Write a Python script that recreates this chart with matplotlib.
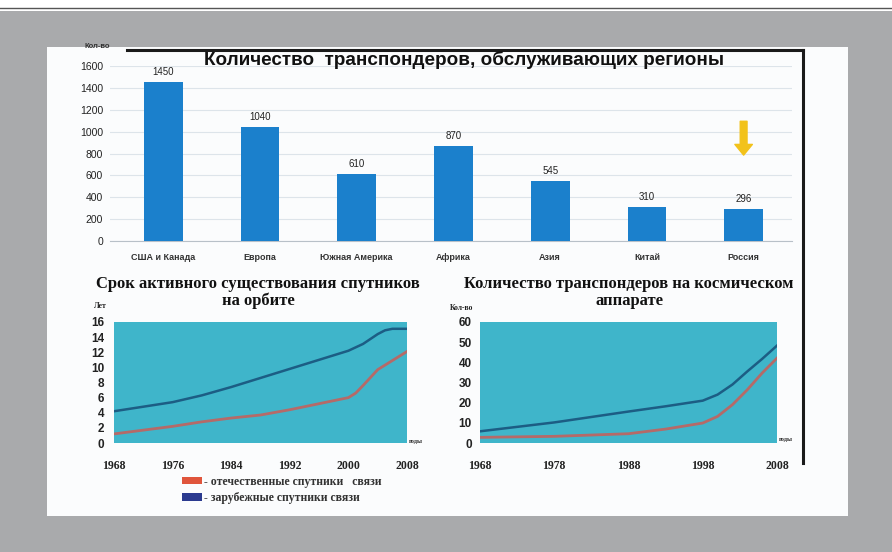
import numpy as np
import matplotlib
matplotlib.use("Agg")
import matplotlib.pyplot as plt
from matplotlib.patches import Rectangle, Patch
from matplotlib.lines import Line2D
from matplotlib.colors import LinearSegmentedColormap

# ---------------- data ----------------
regions = ["США и Канада", "Европа", "Южная Америка", "Африка", "Азия", "Китай", "Россия"]
transponders = [1450, 1040, 610, 870, 545, 310, 296]
bar_yticks = [0, 200, 400, 600, 800, 1000, 1200, 1400, 1600]

life_years = [1968, 1976, 1980, 1984, 1988, 1992, 1996, 2000, 2002, 2004, 2005, 2006, 2008]
life_foreign = [4.2, 5.4, 6.3, 7.4, 8.6, 9.8, 11.0, 12.2, 13.1, 14.4, 14.9, 15.1, 15.1]
life_dom_years = [1968, 1972, 1976, 1980, 1984, 1988, 1992, 1996, 2000, 2001, 2002, 2004, 2006, 2008]
life_domestic = [1.2, 1.7, 2.2, 2.8, 3.3, 3.7, 4.4, 5.2, 6.0, 6.6, 7.6, 9.7, 10.9, 12.1]
life_yticks = [0, 2, 4, 6, 8, 10, 12, 14, 16]
life_xticks = [1968, 1976, 1984, 1992, 2000, 2008]

tr_years = [1968, 1978, 1988, 1993, 1998, 2000, 2002, 2004, 2006, 2008]
tr_foreign = [5.8, 10.2, 15.6, 18.2, 21.0, 24.0, 29.0, 35.5, 41.7, 48.3]
tr_domestic = [2.8, 3.3, 4.6, 6.9, 9.9, 13.2, 19.0, 26.4, 34.7, 42.1]
tr_yticks = [0, 10, 20, 30, 40, 50, 60]
tr_xticks = [1968, 1978, 1988, 1998, 2008]

W, H = 892, 552
fig = plt.figure(figsize=(W / 100, H / 100), dpi=100)
fig.patch.set_facecolor("#a9aaac")

SANS = ["Liberation Sans", "DejaVu Sans"]
SERIF = ["Liberation Serif", "DejaVu Serif"]


def box(x0, y0, x1, y1):
    return [x0 / W, 1 - y1 / H, (x1 - x0) / W, (y1 - y0) / H]


def fx(x):
    return x / W


def fy(y):
    return 1 - y / H


# top white strip + rule
fig.patches.append(Rectangle((0, fy(11)), 1, 11 / H, transform=fig.transFigure,
                             facecolor="white", edgecolor="none", zorder=0))
fig.add_artist(Line2D([0, 1], [fy(8), fy(8)], transform=fig.transFigure,
                      color="#555555", lw=1.0))

# white slide
fig.patches.append(Rectangle((fx(47), fy(516)), (848 - 47) / W, (516 - 47) / H,
                             transform=fig.transFigure, facecolor="#fbfcfd",
                             edgecolor="none", zorder=0))

# light-blue gradient panel behind bar chart
bg = fig.add_axes(box(50, 50, 803, 278), zorder=0)
grad = np.linspace(0, 1, 256)[None, :]
cmap = LinearSegmentedColormap.from_list("g", ["#f3f8fc", "#d6eaf7"])
bg.imshow(grad, aspect="auto", cmap=cmap, extent=[0, 1, 0, 1])
bg.axis("off")

# black frame lines
fig.add_artist(Line2D([fx(127), fx(803)], [fy(50), fy(50)], transform=fig.transFigure,
                      color="#1a1a1a", lw=2.2))
fig.add_artist(Line2D([fx(803), fx(803)], [fy(50), fy(463)], transform=fig.transFigure,
                      color="#1a1a1a", lw=2.2))

# ---------------- bar chart ----------------
ax = fig.add_axes(box(110, 66, 792, 241), zorder=2)
ax.patch.set_alpha(0)
x = np.arange(len(regions))
ax.bar(x, transponders, width=0.4, color="#1b80cc", zorder=3)
for xi, v in zip(x, transponders):
    ax.text(xi, v + 45, str(v), ha="center", va="bottom", fontsize=7,
            family=SANS, color="#222222")
ax.set_xlim(-0.55, 6.5)
ax.set_ylim(0, 1600)
ax.set_yticks(bar_yticks)
ax.set_yticklabels([str(t) for t in bar_yticks], fontsize=7.5, family=SANS,
                   color="#222222")
ax.set_xticks(x)
ax.set_xticklabels(regions, fontsize=6.5, family=SANS, fontweight="bold",
                   color="#333333")
ax.tick_params(axis="both", length=0)
ax.tick_params(axis="x", pad=9)
ax.tick_params(axis="y", pad=5)
ax.grid(axis="y", color="#dde4ea", lw=0.8, zorder=0)
for s in ["top", "right", "left"]:
    ax.spines[s].set_visible(False)
ax.spines["bottom"].set_color("#b8c0c8")
ax.annotate("", xy=(6, 760), xytext=(6, 1120),
            arrowprops=dict(arrowstyle="simple,head_length=0.55,head_width=0.9,tail_width=0.35",
                            color="#f2c21b", mutation_scale=14), zorder=4)

fig.text(fx(464), fy(60), "Количество  транспондеров, обслуживающих регионы",
         ha="center", va="center", fontsize=13.6, fontweight="bold", family=SANS,
         color="#111111")
fig.text(fx(97), fy(46), "Кол-во", ha="center", va="center", fontsize=5.5,
         fontweight="bold", family=SANS, color="#333333")

TEAL = "#3fb5ca"
C_FOR = "#1c5d84"
C_DOM = "#b56a68"

# ---------------- lifetime chart ----------------
a1 = fig.add_axes(box(114, 322, 407, 443), zorder=2)
a1.set_facecolor(TEAL)
a1.plot(life_years, life_foreign, color=C_FOR, lw=1.8)
a1.plot(life_dom_years, life_domestic, color=C_DOM, lw=2.0)
a1.set_xlim(1968, 2008)
a1.set_ylim(0, 16)
a1.set_yticks(life_yticks)
a1.set_yticklabels([str(t) for t in life_yticks], fontsize=8.5, family=SANS,
                   fontweight="bold", color="#222222")
a1.set_xticks(life_xticks)
a1.set_xticklabels([str(t) for t in life_xticks], fontsize=8.5, family=SERIF,
                   fontweight="bold", color="#222222")
a1.tick_params(axis="y", length=0, pad=7)
a1.tick_params(axis="x", length=0, pad=12)
for s in a1.spines.values():
    s.set_visible(False)
fig.text(fx(258), fy(284), "Срок активного существования спутников",
         ha="center", va="center", fontsize=12, fontweight="bold", family=SERIF,
         color="#111111")
fig.text(fx(258), fy(301), "на орбите",
         ha="center", va="center", fontsize=12, fontweight="bold", family=SERIF,
         color="#111111")
fig.text(fx(100), fy(306), "Лет", ha="center", va="center", fontsize=5.5,
         fontweight="bold", family=SERIF, color="#222222")
fig.text(fx(409), fy(442), "годы", ha="left", va="center", fontsize=4.5,
         fontweight="bold", family=SERIF, color="#222222")

handles = [Patch(facecolor="#e0553c", edgecolor="none"),
           Patch(facecolor="#2b3a8f", edgecolor="none")]
fig.legend(handles, ["- отечественные спутники   связи", "- зарубежные спутники связи"],
           loc="upper left", bbox_to_anchor=(fx(171), fy(465)), frameon=False,
           prop=dict(family=SERIF, weight="bold", size=8.5), handlelength=1.7,
           handleheight=0.6, handletextpad=0.2, labelspacing=0.4,
           labelcolor="#333333")

# ---------------- transponders per satellite ----------------
a2 = fig.add_axes(box(480, 322, 777, 443), zorder=2)
a2.set_facecolor(TEAL)
a2.plot(tr_years, tr_foreign, color=C_FOR, lw=1.8)
a2.plot(tr_years, tr_domestic, color=C_DOM, lw=2.0)
a2.set_xlim(1968, 2008)
a2.set_ylim(0, 60)
a2.set_yticks(tr_yticks)
a2.set_yticklabels([str(t) for t in tr_yticks], fontsize=8.5, family=SANS,
                   fontweight="bold", color="#222222")
a2.set_xticks(tr_xticks)
a2.set_xticklabels([str(t) for t in tr_xticks], fontsize=8.5, family=SERIF,
                   fontweight="bold", color="#222222")
a2.tick_params(axis="y", length=0, pad=6)
a2.tick_params(axis="x", length=0, pad=12)
for s in a2.spines.values():
    s.set_visible(False)
fig.text(fx(629), fy(284), "Количество транспондеров на космическом",
         ha="center", va="center", fontsize=12, fontweight="bold", family=SERIF,
         color="#111111")
fig.text(fx(629), fy(301), "аппарате",
         ha="center", va="center", fontsize=12, fontweight="bold", family=SERIF,
         color="#111111")
fig.text(fx(462), fy(308), "Кол-во", ha="center", va="center", fontsize=5.5,
         fontweight="bold", family=SERIF, color="#222222")
fig.text(fx(779), fy(440), "годы", ha="left", va="center", fontsize=4.5,
         fontweight="bold", family=SERIF, color="#222222")

fig.savefig("out.png", dpi=100, facecolor=fig.get_facecolor())
